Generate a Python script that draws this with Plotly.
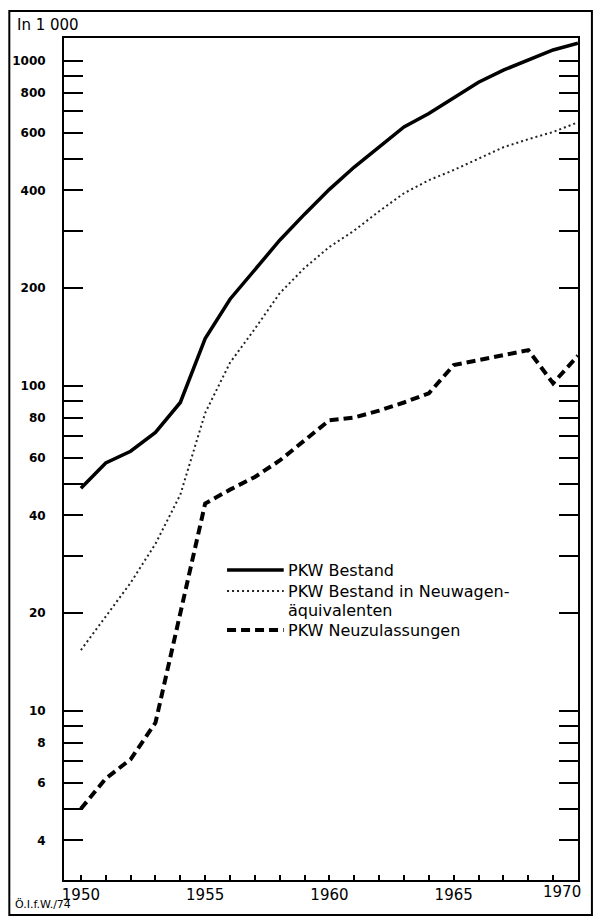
import plotly.graph_objects as go

# ---- data ----
years = list(range(1950, 1971))
pkw_bestand = [48.5, 58, 63, 72, 89, 140, 185, 229, 281, 338, 403, 472, 543, 627,
               690, 770, 861, 938, 1007, 1082, 1135]
pkw_neuwagen_aequiv = [15.4, 19.6, 24.8, 32.7, 46.3, 82.6, 118, 150, 193, 231, 268,
                       301, 345, 392, 430, 462, 501, 543, 575, 605, 648]
pkw_neuzulassungen = [5.0, 6.2, 7.1, 9.2, 20, 43.5, 48, 52.5, 59, 68, 78.5, 80, 84,
                      89, 95, 116, 120, 124, 129, 102, 124]

y_tickvals = [4, 5, 6, 7, 8, 9, 10, 20, 30, 40, 50, 60, 70, 80, 90, 100,
              200, 300, 400, 500, 600, 700, 800, 900, 1000]
y_ticktext = ["4", "", "6", "", "8", "", "10", "20", "", "40", "", "60", "", "80", "",
              "100", "200", "", "400", "", "600", "", "800", "", "1000"]
x_tickvals = years
# 1970 sits on the right border; its label is drawn as a right-anchored annotation
x_ticktext = [str(y) if (y % 5 == 0 and y != 1970) else "" for y in years]
last_year_label = str(years[-1])

legend_names = ["PKW Bestand", "PKW Bestand in Neuwagenäquivalenten", "PKW Neuzulassungen"]

FONT = "DejaVu Sans"
W, H = 593, 917
L, R, T, B = 61, 578, 38, 880  # plot area in pixels


def px(x):
    return (x - L) / (R - L)


def py(y):
    return (B - y) / (B - T)


styles = [
    dict(color="black", width=3.5, dash="solid"),
    dict(color="#222", width=2, dash="2px,3px"),
    dict(color="black", width=4, dash="9px,5px"),
]

fig = go.Figure()
for vals, name, st in zip([pkw_bestand, pkw_neuwagen_aequiv, pkw_neuzulassungen],
                          legend_names, styles):
    fig.add_trace(go.Scatter(x=years, y=vals, mode="lines", name=name,
                             line=st, showlegend=False))

fig.update_layout(
    width=W, height=H,
    margin=dict(l=L, r=W - R, t=T, b=H - B),
    paper_bgcolor="white", plot_bgcolor="white",
    font=dict(family=FONT, color="black"),
    showlegend=False,
)
fig.update_xaxes(
    range=[1950 - 17 / 25, 1970.002], tickvals=x_tickvals, ticktext=x_ticktext,
    ticks="inside", ticklen=5, tickwidth=1.5, tickcolor="black",
    showline=True, linecolor="black", linewidth=2, mirror=True,
    showgrid=False, zeroline=False, tickfont=dict(size=15, family=FONT),
    ticklabelstandoff=0,
)
fig.update_yaxes(
    type="log", range=[0.48, 3.071], tickvals=y_tickvals, ticktext=y_ticktext,
    ticks="inside", ticklen=19, tickwidth=2, tickcolor="black",
    showline=True, linecolor="black", linewidth=2, mirror="ticks",
    showgrid=False, zeroline=False,
    tickfont=dict(size=12, family=FONT, weight="bold"),
    ticklabelstandoff=14,
)

shapes = []
# outer frame
shapes.append(dict(type="rect", xref="paper", yref="paper",
                   x0=px(6), x1=px(592), y0=py(915), y1=py(11),
                   line=dict(color="black", width=2), layer="below"))
# legend samples
legend_rows = [570, 591, 630]
for yy, st in zip(legend_rows, styles):
    shapes.append(dict(type="line", xref="paper", yref="paper",
                       x0=px(225), x1=px(282), y0=py(yy), y1=py(yy),
                       line=st))
fig.update_layout(shapes=shapes)

annotations = [
    dict(text=last_year_label, x=px(583), xref="paper", y=py(892), yref="paper",
         xanchor="right", yanchor="middle", showarrow=False, font=dict(size=15)),
    dict(text="In 1 000", x=px(12), y=py(25), xref="paper", yref="paper",
         xanchor="left", yanchor="middle", showarrow=False, font=dict(size=15)),
    dict(text="Ö.I.f.W./74", x=px(10), y=py(904), xref="paper", yref="paper",
         xanchor="left", yanchor="middle", showarrow=False, font=dict(size=11)),
    dict(text="PKW Bestand", x=px(284), y=py(570), xref="paper", yref="paper",
         xanchor="left", yanchor="middle", showarrow=False, font=dict(size=16)),
    dict(text="PKW Bestand in Neuwagen-", x=px(284), y=py(591), xref="paper", yref="paper",
         xanchor="left", yanchor="middle", showarrow=False, font=dict(size=16)),
    dict(text="äquivalenten", x=px(284), y=py(610), xref="paper", yref="paper",
         xanchor="left", yanchor="middle", showarrow=False, font=dict(size=16)),
    dict(text="PKW Neuzulassungen", x=px(284), y=py(630), xref="paper", yref="paper",
         xanchor="left", yanchor="middle", showarrow=False, font=dict(size=16)),
]
fig.update_layout(annotations=annotations)

# remove the browser's default 8px body margin so the figure fills the window exactly
fig.write_html("out.html", config={"displayModeBar": False},
               post_script="document.body.style.margin='0px';")
